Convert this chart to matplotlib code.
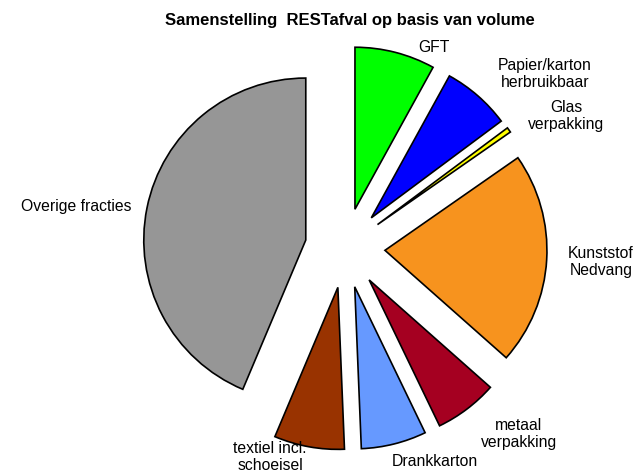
import matplotlib
matplotlib.use("Agg")
import matplotlib.pyplot as plt

# ---- data ----
categories = ["GFT", "Papier/karton\nherbruikbaar", "Glas\nverpakking", "Kunststof\nNedvang",
              "metaal\nverpakking", "Drankkarton", "textiel incl.\nschoeisel", "Overige fracties"]
values = [8.0, 6.8, 0.5, 21.2, 6.3, 6.5, 7.0, 43.6]
colors = ["#00FF00", "#0000FF", "#FFFF00", "#F7931E", "#A50021", "#6699FF", "#993300", "#969696"]
title = "Samenstelling  RESTafval op basis van volume"

# ---- layout (pixels) ----
W, H = 640, 472
R_PX = 162.0
CX, CY = 345.0, 248.0
label_pos_px = [(434, 47), (545, 74), (566, 116), (601, 262),
                (519, 434), (435, 462), (270, 457), (76, 206)]

plt.rcParams['font.family'] = ['Liberation Sans', 'DejaVu Sans']
fig = plt.figure(figsize=(W / 100, H / 100), dpi=100)
ax = fig.add_axes([0, 0, 1, 1])
ax.set_aspect('equal')
ax.axis('off')

ax.pie(values, colors=colors, startangle=90, counterclock=False,
       explode=[0.247] * len(values), radius=1.0,
       wedgeprops=dict(edgecolor='black', linewidth=1.2), frame=False)
ax.set_xlim(-CX / R_PX, (W - CX) / R_PX)
ax.set_ylim(-(H - CY) / R_PX, CY / R_PX)

for lab, (px, py) in zip(categories, label_pos_px):
    ax.text((px - CX) / R_PX, (CY - py) / R_PX, lab, ha='center', va='center',
            fontsize=11.3, color='black', linespacing=1.2)

fig.text(350 / W, 1 - 20 / H, title, ha='center', va='center',
         fontsize=12, fontweight='bold')

fig.savefig("out.png", dpi=100)
